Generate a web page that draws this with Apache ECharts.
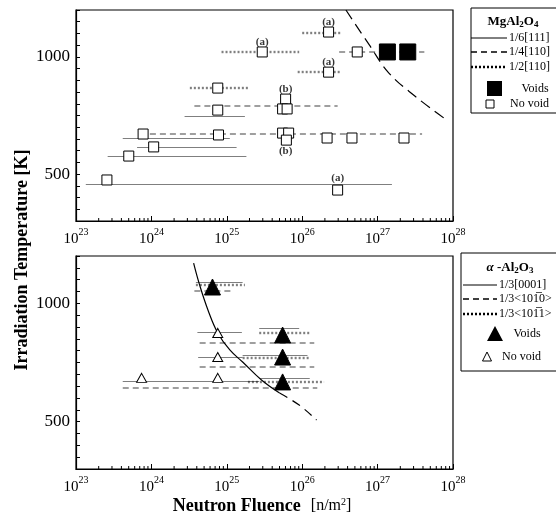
<!DOCTYPE html>
<html><head><meta charset="utf-8">
<script src="https://cdn.jsdelivr.net/npm/echarts@6/dist/echarts.min.js"></script>
<style>html,body{margin:0;padding:0;background:#fff}#c{width:556px;height:518px}</style>
</head><body><div id="c"></div>
<script>
// ---------- DATA (fluence given as log10 exponent, temperature in K) ----------
// MgAl2O4 (top panel) segments: [logStart, logEnd, T]
const mgSolid  = [[24.44,25.24,748],[23.62,25.04,654],[23.81,25.13,616],[23.42,25.26,577],[23.13,27.19,458]];
const mgDashed = [[26.49,27.62,1021],[24.57,26.47,790],[23.98,27.59,671]];
const mgDotted = [[26.00,26.52,1102],[24.93,25.96,1021],[25.94,26.52,935],[24.51,25.30,867]];
// MgAl2O4 markers: [log, T]
const mgNoVoid = [[26.35,1106],[25.47,1021],[26.73,1021],[26.35,935],[24.88,867],[25.78,820],
  [25.74,778],[25.80,778],[24.88,773],[23.89,671],[24.89,667],[25.74,675],[25.82,675],[25.79,645],
  [26.33,654],[26.66,654],[27.35,654],[24.03,616],[23.70,577],[23.41,475],[26.47,432]];
const mgVoids = [[27.13,1021],[27.40,1021]];
const mgNotes = [[26.35,1149,'(a)'],[25.47,1063,'(a)'],[26.35,978,'(a)'],[25.78,862,'(b)'],[25.78,596,'(b)'],[26.47,483,'(a)']];
const mgCurve = [[26.58,1200],[26.89,1051],[27.15,931],[27.51,829],[27.88,739]];

// alpha-Al2O3 (bottom panel)
const alSolid  = [[24.59,25.21,1090],[24.61,25.20,879],[25.43,25.96,896],[24.62,25.21,773],[25.21,26.07,782],[23.62,25.43,672],[25.43,26.10,682]];
const alDashed = [[24.57,25.08,1052],[24.64,26.16,832],[24.64,26.16,731],[23.62,26.20,642]];
const alDotted = [[24.59,25.24,1077],[25.43,26.10,875],[25.21,26.10,769],[25.28,26.29,668]];
const alNoVoid = [[24.88,875],[24.88,773],[23.87,685],[24.88,685]];
const alVoids  = [[24.81,1069],[25.74,866],[25.74,773],[25.74,668]];
const alCurveSolid  = [[24.56,1170],[24.64,1077],[24.75,972],[24.88,875],[25.04,803],[25.21,752],[25.46,676],[25.70,621]];
const alCurveDashed = [[25.70,621],[25.96,570],[26.19,507]];

const yLabels = [500, 1000];
const xDecades = [23, 24, 25, 26, 27, 28];
const minorMult = [2,3,4,5,6,7,8,9];

// ---------- BUILD ----------
const P = e => Math.pow(10, e);
const FONT = '"Liberation Serif","Times New Roman",serif';
const segData = arr => arr.map(s => ({coords: [[P(s[0]), s[2]], [P(s[1]), s[2]]]}));
const ptData = arr => arr.map(p => [P(p[0]), p[1]]);

const solidStyle  = {color:'#000', width:1, type:'solid'};
const dashedStyle = {color:'#000', width:1.6, type:[6,4]};
const dottedStyle = {color:'#000', width:2.4, type:[2,2]};

function xAxisDef(gi){
  return {type:'log', logBase:10, gridIndex:gi, min:P(xDecades[0]), max:P(xDecades[xDecades.length-1]),
    axisLine:{lineStyle:{color:'#000', width:1.2}},
    axisTick:{inside:true, length:5, lineStyle:{color:'#000'}},
    splitLine:{show:false},
    axisLabel:{margin:6, formatter: v => '{b|10}{s|' + Math.round(Math.log10(v)) + '}',
      rich:{b:{fontFamily:FONT, fontSize:15, color:'#000', verticalAlign:'bottom', lineHeight:20},
            s:{fontFamily:FONT, fontSize:10, color:'#000', verticalAlign:'top', lineHeight:20}}}};
}
function yAxisDef(gi){
  return {type:'value', gridIndex:gi, min:300, max:1200, interval:50,
    axisLine:{lineStyle:{color:'#000', width:1.2}},
    axisTick:{inside:true, length:4, lineStyle:{color:'#000'}},
    splitLine:{show:false},
    axisLabel:{margin:6, fontFamily:FONT, fontSize:17, color:'#000',
      formatter: v => yLabels.indexOf(v) >= 0 ? String(v) : ''}};
}
const minorTickData = [];
xDecades.slice(0,-1).forEach(d => minorMult.forEach(m => minorTickData.push([m*P(d), 300])));
function minorTicks(gi){
  return {type:'custom', xAxisIndex:gi, yAxisIndex:gi, silent:true, data:minorTickData, z:5,
    renderItem:(params, api) => {
      const p = api.coord([api.value(0), api.value(1)]);
      return {type:'line', shape:{x1:p[0], y1:p[1], x2:p[0], y2:p[1]-3}, style:{stroke:'#000', lineWidth:1}};
    }};
}
function segSeries(gi, arr, style){
  return {type:'lines', coordinateSystem:'cartesian2d', xAxisIndex:gi, yAxisIndex:gi, polyline:false,
    silent:true, data:segData(arr), lineStyle:style, z:2};
}
function curveSeries(gi, arr, style){
  return {type:'line', xAxisIndex:gi, yAxisIndex:gi, data:ptData(arr), smooth:0.4, showSymbol:false,
    silent:true, lineStyle:style, z:2};
}
function markSeries(gi, arr, symbol, size, filled){
  return {type:'scatter', xAxisIndex:gi, yAxisIndex:gi, data:ptData(arr), symbol:symbol, symbolSize:size,
    silent:true, z:4, itemStyle:{color: filled ? '#000' : '#fff', borderColor:'#000', borderWidth:1, opacity:1}};
}

const series = [
  minorTicks(0), minorTicks(1),
  segSeries(0, mgSolid, solidStyle), segSeries(0, mgDashed, dashedStyle), segSeries(0, mgDotted, dottedStyle),
  curveSeries(0, mgCurve, {color:'#000', width:1.2, type:[11,6]}),
  markSeries(0, mgNoVoid, 'rect', [10,10], false),
  markSeries(0, mgVoids, 'rect', [16,16], true),
  {type:'scatter', xAxisIndex:0, yAxisIndex:0, symbolSize:0, silent:true, z:6,
   data: mgNotes.map(n => ({value:[P(n[0]), n[1]], name:n[2]})),
   label:{show:true, position:'inside', formatter:'{b}', fontFamily:FONT, fontSize:11, fontWeight:'bold', color:'#000'}},
  segSeries(1, alSolid, solidStyle), segSeries(1, alDashed, dashedStyle), segSeries(1, alDotted, dottedStyle),
  curveSeries(1, alCurveSolid, {color:'#000', width:1.2, type:'solid'}),
  curveSeries(1, alCurveDashed, {color:'#000', width:1.2, type:[9,6]}),
  markSeries(1, alNoVoid, 'triangle', [10,9], false),
  markSeries(1, alVoids, 'triangle', [16,16], true)
];

// ---------- LEGENDS & TITLES (graphics) ----------
const g = [];
function legendLine(x1, x2, y, style){
  g.push({type:'line', shape:{x1:x1, y1:y, x2:x2, y2:y}, style:{stroke:'#000', lineWidth:style.width,
    lineDash: style.type === 'solid' ? null : style.type}});
}
function txt(x, y, text, opt){
  g.push(Object.assign({type:'text', x:x, y:y, style:Object.assign({text:text, fontFamily:FONT, fontSize:12, fill:'#000',
    textVerticalAlign:'middle', verticalAlign:'middle'}, opt||{})}));
}
// top legend
g.push({type:'rect', shape:{x:471, y:8, width:100, height:105}, style:{fill:'#fff', stroke:'#000', lineWidth:1}});
g.push({type:'text', x:513, y:22, style:{text:'{t|MgAl}{d|2}{t|O}{d|4}', align:'center', verticalAlign:'middle',
  rich:{t:{fontFamily:FONT, fontSize:13, fontWeight:'bold', fill:'#000'}, d:{fontFamily:FONT, fontSize:9, fontWeight:'bold', fill:'#000', padding:[6,0,0,0]}}}});
legendLine(471, 507, 38, solidStyle);  txt(509, 38, '1/6[111]');
legendLine(471, 507, 52, dashedStyle); txt(509, 52, '1/4[110]');
legendLine(471, 507, 67, dottedStyle); txt(509, 67, '1/2[110]');
g.push({type:'rect', shape:{x:487, y:81, width:15, height:15}, style:{fill:'#000'}});
txt(535, 89, 'Voids', {align:'center'});
g.push({type:'rect', shape:{x:486, y:100, width:8, height:8}, style:{fill:'#fff', stroke:'#000', lineWidth:1}});
txt(510, 104, 'No void');
// bottom legend
g.push({type:'rect', shape:{x:461, y:253, width:100, height:118}, style:{fill:'#fff', stroke:'#000', lineWidth:1}});
g.push({type:'text', x:510, y:268, style:{text:'{i|α} {t|-Al}{d|2}{t|O}{d|3}', align:'center', verticalAlign:'middle',
  rich:{i:{fontFamily:FONT, fontSize:13, fontWeight:'bold', fontStyle:'italic', fill:'#000'},
        t:{fontFamily:FONT, fontSize:13, fontWeight:'bold', fill:'#000'}, d:{fontFamily:FONT, fontSize:9, fontWeight:'bold', fill:'#000', padding:[6,0,0,0]}}}});
legendLine(463, 497, 285, solidStyle);  txt(499, 285, '1/3[0001]');
legendLine(463, 497, 299, dashedStyle); txt(499, 299, '1/3<101\u03050>');
legendLine(463, 497, 314, dottedStyle); txt(499, 314, '1/3<101\u03051>');
g.push({type:'polygon', shape:{points:[[495,326],[487,341],[503,341]]}, style:{fill:'#000'}});
txt(527, 334, 'Voids', {align:'center'});
g.push({type:'polygon', shape:{points:[[487,352],[482.5,361],[491.5,361]]}, style:{fill:'#fff', stroke:'#000', lineWidth:1}});
txt(502, 357, 'No void');
// axis titles
g.push({type:'text', x:22, y:260, rotation:Math.PI/2, style:{text:'Irradiation Temperature [K]', fontFamily:FONT, fontSize:18,
  fontWeight:'bold', fill:'#000', align:'center', verticalAlign:'middle'}});
g.push({type:'text', x:262, y:506, style:{text:'{b|Neutron Fluence}   {n|[n/m}{s|2}{n|]}', align:'center', verticalAlign:'middle',
  rich:{b:{fontFamily:FONT, fontSize:18, fontWeight:'bold', fill:'#000'}, n:{fontFamily:FONT, fontSize:16, fill:'#000'},
        s:{fontFamily:FONT, fontSize:10, fill:'#000', padding:[0,0,8,0]}}}});

const chart = echarts.init(document.getElementById('c'), null, {renderer:'canvas'});
chart.setOption({
  animation:false,
  backgroundColor:'#fff',
  grid:[{left:76, top:10, width:377, height:211, show:true, borderColor:'#000', borderWidth:1.2, backgroundColor:'transparent'},
        {left:76, top:256, width:377, height:213, show:true, borderColor:'#000', borderWidth:1.2, backgroundColor:'transparent'}],
  xAxis:[xAxisDef(0), xAxisDef(1)],
  yAxis:[yAxisDef(0), yAxisDef(1)],
  series:series,
  graphic:g
});
</script></body></html>
